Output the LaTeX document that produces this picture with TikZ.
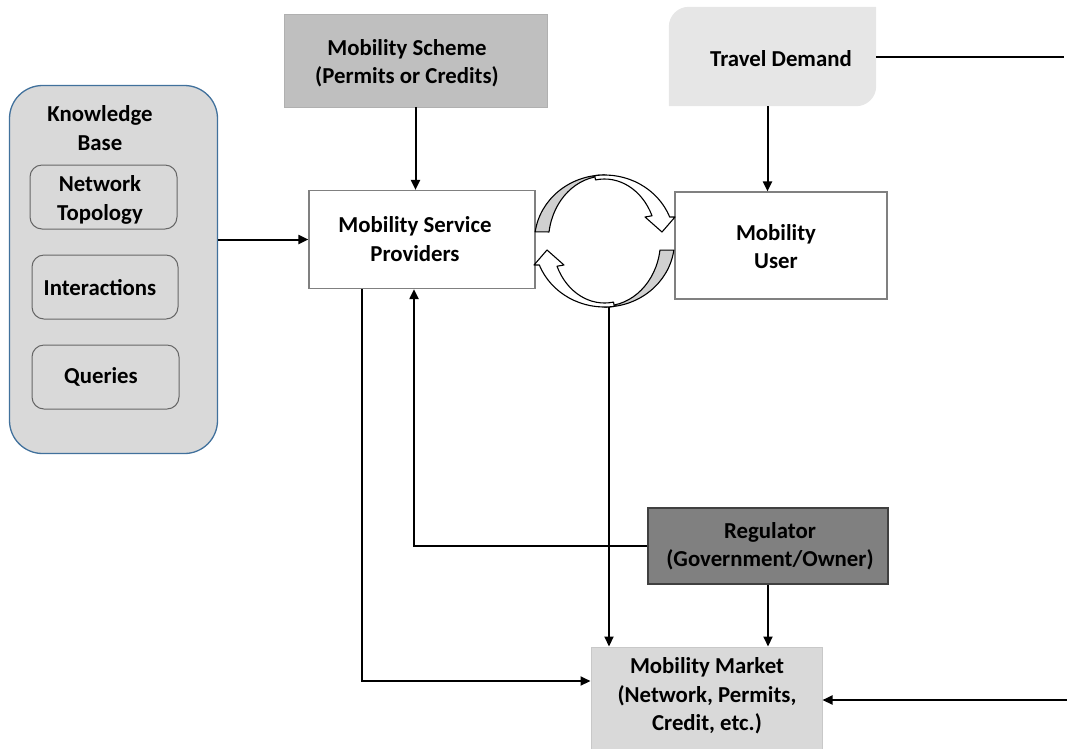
\documentclass[tikz,border=0pt]{standalone}
\usepackage{fontspec}
\setmainfont{Carlito}
\usetikzlibrary{arrows.meta}

\definecolor{schemegray}{HTML}{BFBFBF}
\definecolor{demandgray}{HTML}{E6E6E6}
\definecolor{kbfill}{HTML}{D9D9D9}
\definecolor{kbline}{HTML}{41719C}
\definecolor{subline}{HTML}{666666}
\definecolor{boxline}{HTML}{808080}
\definecolor{regfill}{HTML}{808080}
\definecolor{regline}{HTML}{404040}
\definecolor{marketfill}{HTML}{D9D9D9}
\definecolor{marketline}{HTML}{C8C8C8}
\definecolor{ribbon}{HTML}{D0D0D0}

\begin{document}
\begin{tikzpicture}[x=1pt,y=1pt,
  lbl/.style={font=\fontsize{22.8}{28.5}\selectfont\bfseries, align=center, inner sep=0pt},
  shapebox/.style={rectangle, inner sep=0pt},
  kbbox/.style={shapebox, fill=kbfill, draw=kbline, line width=1.3pt, rounded corners=33pt},
  subbox/.style={shapebox, fill=kbfill, draw=subline, line width=1pt, rounded corners=12pt},
  plainbox/.style={shapebox, fill=white, draw=boxline, line width=1.2pt},
  schemebox/.style={shapebox, fill=schemegray, draw=schemegray!92!black, line width=0.8pt},
  regbox/.style={shapebox, fill=regfill, draw=regline, line width=1.2pt},
  marketbox/.style={shapebox, fill=marketfill, draw=marketline, line width=1pt},
  conn/.style={line width=2pt, black},
  arr/.style={conn, -{Triangle[length=10pt,width=9pt]}},
  loopline/.style={draw=black, line width=1.1pt, line join=round}
]
\useasboundingbox (0,0) rectangle (1067,-748);

% ---- knowledge base ----
\node[kbbox, minimum width=208, minimum height=368] (kb) at (113.5,-269.5) {};
\node[lbl] (kbtitle) at (100,-128) {Knowledge\\Base};
\node[subbox, minimum width=147, minimum height=64] (topo) at (103.5,-197) {};
\node[lbl] (topot) at (100,-200) {Network\\Topology};
\node[subbox, minimum width=146, minimum height=64] (inter) at (105,-287) {};
\node[lbl] (intert) at (100,-288) {Interactions};
\node[subbox, minimum width=147, minimum height=64] (query) at (105.5,-377) {};
\node[lbl] (queryt) at (101,-377) {Queries};

% ---- scheme ----
\node[schemebox, minimum width=263, minimum height=93] (scheme) at (415.5,-60.5) {};
\node[lbl] (schemet) at (407,-63) {Mobility Scheme\\(Permits or Credits)};

% ---- travel demand (two rounded corners) ----
\node[shapebox, minimum width=207, minimum height=99] (demand) at (772.5,-56.5) {};
\fill[demandgray] (demand.south west) -- ([yshift=-20pt]demand.north west)
  arc[start angle=180, end angle=90, radius=20pt] -- (demand.north east)
  -- ([yshift=20pt]demand.south east) arc[start angle=0, end angle=-90, radius=20pt] -- cycle;
\node[lbl] (demandt) at (781,-59) {Travel Demand};

% ---- service providers and user ----
\node[plainbox, minimum width=226, minimum height=98] (msp) at (422,-239.5) {};
\node[lbl] (mspt) at (415,-239) {Mobility Service\\Providers};
\node[plainbox, minimum width=212, minimum height=107] (user) at (781,-245.5) {};
\node[lbl] (usert) at (776,-246.5) {Mobility\\User};

% ---- regulator and market ----
\node[regbox, minimum width=240, minimum height=76] (reg) at (768,-546) {};
\node[lbl] (regt) at (770,-546) {Regulator\\(Government/Owner)};
\node[marketbox, minimum width=231, minimum height=104] (market) at (706.5,-699) {};
\node[lbl] (markett) at (707,-696) {Mobility Market\\(Network, Permits,\\Credit, etc.)};

% ---- interaction loop between providers and user ----
\foreach \turn in {0,180}{
  \begin{scope}[shift={(604.5,-241)}, rotate=\turn]
    \draw[loopline, fill=ribbon] (172:70 and 66)
      arc[start angle=172, end angle=90, x radius=70, y radius=66] -- (0,65)
      arc[start angle=90, end angle=172, x radius=56, y radius=65] -- cycle;
    \draw[loopline, fill=white] (98:70 and 66)
      arc[start angle=98, end angle=21.3, x radius=70, y radius=66]
      -- (70.5,24) -- (57.5,9) -- (40.5,24) -- (24:52 and 62)
      arc[start angle=24, end angle=100, x radius=52, y radius=62] -- cycle;
  \end{scope}
}
\coordinate (loopb) at (609,-307);

% ---- connectors ----
\coordinate (demandR) at (1064,-57);
\coordinate (marketR) at (1067,-700);
\draw[arr] (kb.east |- msp.west) -- (msp.west);
\draw[arr] (scheme.south) -- (scheme.south |- msp.north);
\draw[arr] ([xshift=-5pt]demand.south) -- ([xshift=-5pt]demand.south |- user.north);
\draw[conn] (demand.east |- demandR) -- (demandR);
\draw[arr] (marketR) -- (marketR -| market.east);
\draw[arr] ([xshift=-60pt]msp.south) |- ([yshift=18pt]market.west);
\draw[arr] (reg.west) -| ([xshift=-8pt]msp.south);
\draw[arr] (reg.south) -- (reg.south |- market.north);
\draw[arr] (loopb) -- (loopb |- market.north);
\end{tikzpicture}
\end{document}
